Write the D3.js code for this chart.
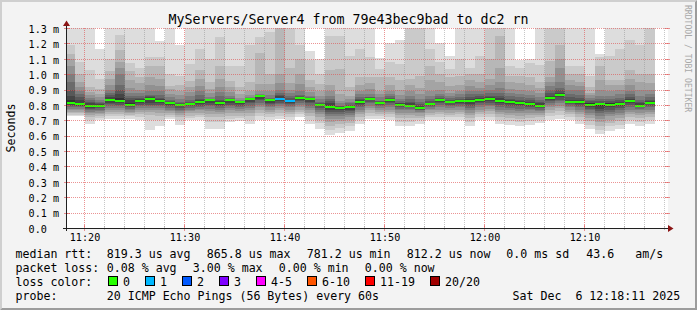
<!DOCTYPE html>
<html><head><meta charset="utf-8">
<script src="https://cdn.jsdelivr.net/npm/d3@7/dist/d3.min.js"></script>
<style>
html,body{margin:0;padding:0;background:#f3f3f3;}
svg{display:block;}
text{font-family:"DejaVu Sans Mono",monospace;fill:#000;white-space:pre;}
</style>
</head><body>
<svg id="c" width="697" height="310"></svg>
<script>
// ---------------- data ----------------
const title = "MyServers/Server4 from 79e43bec9bad to dc2 rn";
const yAxisTitle = "Seconds";
const watermark = "RRDTOOL / TOBI OETIKER";
const yTickValues = [0,0.1,0.2,0.3,0.4,0.5,0.6,0.7,0.8,0.9,1.0,1.1,1.2,1.3];
const yTickLabels = ["0.0","0.1 m","0.2 m","0.3 m","0.4 m","0.5 m","0.6 m","0.7 m","0.8 m","0.9 m","1.0 m","1.1 m","1.2 m","1.3 m"];
const xTickLabels = ["11:20","11:30","11:40","11:50","12:00","12:10"];
const firstSampleStart = "2025-12-06T11:18:00";
// median rtt per 1-minute sample (ms)
const medians = [0.815,0.807,0.796,0.796,0.830,0.826,0.802,0.828,0.839,0.828,
 0.813,0.802,0.807,0.820,0.830,0.815,0.830,0.820,0.839,0.859,
 0.833,0.841,0.826,0.848,0.839,0.802,0.787,0.780,0.789,0.820,
 0.841,0.813,0.833,0.802,0.796,0.783,0.807,0.833,0.820,0.826,
 0.828,0.835,0.839,0.828,0.820,0.813,0.807,0.796,0.848,0.865,
 0.820,0.820,0.802,0.807,0.802,0.807,0.826,0.796,0.813];
// lost pings per sample
const losses = [0,0,0,0,0,0,0,0,0,0, 0,0,0,0,0,0,0,0,0,0, 0,1,1,0,0,0,0,0,0,0,
 0,0,0,0,0,0,0,0,0,0, 0,0,0,0,0,0,0,0,0,0, 0,0,0,0,0,0,0,0,0];
// 20 sorted ping rtts per sample (ms)
const pings = [
[0.725,0.735,0.745,0.755,0.765,0.775,0.785,0.795,0.80,0.81,0.83,0.86,0.90,0.95,1.00,1.05,1.10,1.13,1.19,1.40],
[0.725,0.735,0.745,0.755,0.765,0.775,0.785,0.79,0.795,0.80,0.815,0.835,0.85,0.87,0.89,0.915,0.95,1.00,1.08,1.40],
[0.678,0.70,0.72,0.735,0.745,0.755,0.765,0.775,0.78,0.79,0.80,0.81,0.82,0.83,0.845,0.865,0.885,0.915,1.03,1.40],
[0.70,0.715,0.73,0.74,0.75,0.76,0.77,0.78,0.785,0.79,0.80,0.805,0.81,0.82,0.833,0.85,0.872,0.905,0.97,1.165],
[0.71,0.725,0.74,0.755,0.77,0.78,0.795,0.805,0.815,0.825,0.838,0.85,0.865,0.88,0.90,0.93,0.97,1.02,1.10,1.40],
[0.71,0.725,0.74,0.755,0.77,0.78,0.79,0.80,0.81,0.82,0.845,0.87,0.90,0.93,1.00,1.04,1.08,1.16,1.255,1.40],
[0.71,0.725,0.735,0.745,0.755,0.765,0.775,0.785,0.79,0.795,0.815,0.83,0.845,0.86,0.88,0.91,0.96,1.02,1.07,1.40],
[0.70,0.72,0.74,0.755,0.77,0.78,0.79,0.80,0.81,0.82,0.833,0.84,0.848,0.86,0.875,0.90,0.94,0.98,1.04,1.40],
[0.64,0.70,0.735,0.755,0.77,0.78,0.79,0.80,0.815,0.83,0.845,0.85,0.858,0.867,0.893,0.93,0.98,1.05,1.11,1.40],
[0.665,0.70,0.73,0.75,0.765,0.78,0.79,0.80,0.81,0.82,0.832,0.838,0.845,0.867,0.893,0.926,0.97,1.055,1.11,1.215],
[0.708,0.72,0.735,0.75,0.76,0.77,0.78,0.79,0.80,0.808,0.817,0.82,0.825,0.833,0.85,0.872,0.905,0.926,1.0,1.40],
[0.672,0.70,0.72,0.735,0.75,0.76,0.77,0.78,0.79,0.798,0.805,0.808,0.812,0.817,0.84,0.865,0.893,0.93,0.985,1.187],
[0.70,0.715,0.73,0.745,0.76,0.77,0.78,0.79,0.80,0.804,0.81,0.815,0.82,0.833,0.855,0.883,0.915,0.958,1.063,1.40],
[0.70,0.72,0.735,0.75,0.765,0.775,0.785,0.795,0.805,0.815,0.825,0.83,0.84,0.865,0.893,0.926,0.97,1.024,1.165,1.40],
[0.645,0.69,0.72,0.74,0.76,0.775,0.79,0.80,0.815,0.825,0.832,0.834,0.837,0.841,0.854,0.876,0.904,0.948,1.10,1.40],
[0.643,0.69,0.72,0.74,0.755,0.77,0.78,0.79,0.80,0.81,0.82,0.825,0.833,0.855,0.883,0.915,0.97,1.05,1.24,1.40],
[0.687,0.71,0.73,0.75,0.765,0.78,0.79,0.80,0.815,0.825,0.832,0.835,0.838,0.845,0.86,0.883,0.915,0.958,1.055,1.40],
[0.698,0.715,0.73,0.745,0.76,0.775,0.785,0.795,0.805,0.815,0.822,0.824,0.826,0.828,0.835,0.845,0.872,0.915,1.05,1.40],
[0.676,0.70,0.725,0.745,0.765,0.78,0.795,0.81,0.82,0.83,0.84,0.842,0.844,0.846,0.85,0.865,0.893,0.948,1.187,1.40],
[0.70,0.725,0.75,0.77,0.785,0.80,0.815,0.83,0.84,0.85,0.86,0.862,0.864,0.866,0.872,0.893,0.937,1.137,1.24,1.40],
[0.70,0.72,0.74,0.755,0.77,0.785,0.795,0.805,0.815,0.825,0.835,0.837,0.84,0.845,0.867,0.893,0.937,1.0,1.274,1.40],
[0.71,0.73,0.75,0.765,0.78,0.795,0.805,0.815,0.825,0.835,0.845,0.855,0.865,0.88,0.90,0.94,1.0,1.32,1.40,1.50],
[0.70,0.72,0.74,0.755,0.77,0.785,0.795,0.805,0.815,0.822,0.83,0.835,0.845,0.86,0.875,0.90,0.94,1.04,1.35,1.50],
[0.72,0.74,0.755,0.77,0.785,0.80,0.815,0.825,0.835,0.845,0.851,0.854,0.858,0.865,0.893,0.937,1.0,1.10,1.187,1.40],
[0.676,0.70,0.725,0.745,0.765,0.78,0.795,0.81,0.82,0.83,0.841,0.843,0.846,0.85,0.86,0.883,0.915,0.96,1.09,1.15],
[0.643,0.68,0.70,0.72,0.74,0.755,0.77,0.78,0.79,0.798,0.804,0.807,0.81,0.817,0.839,0.86,0.893,0.937,1.0,1.10],
[0.606,0.64,0.665,0.69,0.71,0.725,0.74,0.755,0.77,0.78,0.795,0.81,0.825,0.84,0.86,0.89,0.93,1.03,1.25,1.40],
[0.62,0.65,0.675,0.695,0.71,0.725,0.74,0.755,0.765,0.775,0.783,0.786,0.79,0.796,0.81,0.828,0.872,1.035,1.25,1.40],
[0.63,0.66,0.685,0.705,0.72,0.735,0.75,0.76,0.77,0.78,0.792,0.795,0.80,0.81,0.817,0.84,0.86,0.915,1.12,1.40],
[0.676,0.70,0.72,0.74,0.755,0.77,0.785,0.795,0.805,0.815,0.825,0.83,0.838,0.85,0.87,0.893,0.93,0.98,1.165,1.40],
[0.71,0.73,0.75,0.765,0.78,0.795,0.81,0.82,0.83,0.838,0.845,0.848,0.851,0.854,0.872,0.904,0.94,0.98,1.11,1.40],
[0.71,0.725,0.74,0.755,0.77,0.78,0.79,0.80,0.806,0.81,0.816,0.82,0.825,0.828,0.85,0.87,0.893,0.98,1.035,1.105],
[0.70,0.72,0.74,0.755,0.77,0.785,0.80,0.81,0.82,0.83,0.836,0.84,0.845,0.855,0.87,0.89,0.93,0.98,1.08,1.204],
[0.665,0.69,0.715,0.735,0.75,0.765,0.775,0.785,0.792,0.798,0.806,0.81,0.815,0.825,0.84,0.865,0.90,0.96,1.067,1.22],
[0.665,0.69,0.715,0.735,0.75,0.765,0.775,0.785,0.79,0.793,0.80,0.81,0.82,0.84,0.86,0.89,0.93,0.97,1.35,1.45],
[0.676,0.70,0.715,0.73,0.745,0.755,0.765,0.77,0.775,0.78,0.787,0.795,0.805,0.82,0.84,0.87,0.91,0.99,1.35,1.45],
[0.70,0.72,0.735,0.75,0.765,0.775,0.785,0.795,0.80,0.804,0.81,0.815,0.825,0.84,0.86,0.89,0.96,1.05,1.165,1.40],
[0.70,0.72,0.74,0.755,0.77,0.785,0.80,0.81,0.82,0.83,0.836,0.84,0.845,0.855,0.87,0.90,0.95,1.0,1.078,1.20],
[0.70,0.72,0.735,0.75,0.765,0.78,0.79,0.80,0.81,0.816,0.824,0.828,0.835,0.845,0.86,0.88,0.92,0.98,1.035,1.115],
[0.70,0.72,0.74,0.755,0.77,0.785,0.795,0.805,0.815,0.822,0.83,0.835,0.84,0.85,0.87,0.89,0.93,0.99,1.10,1.40],
[0.665,0.69,0.715,0.735,0.75,0.765,0.78,0.795,0.808,0.82,0.835,0.84,0.85,0.87,0.89,0.92,0.96,1.0,1.04,1.40],
[0.70,0.72,0.74,0.755,0.77,0.785,0.80,0.81,0.82,0.83,0.84,0.845,0.855,0.87,0.89,0.91,0.95,1.0,1.12,1.40],
[0.70,0.72,0.74,0.76,0.775,0.79,0.80,0.815,0.825,0.835,0.845,0.85,0.86,0.875,0.90,0.93,0.97,1.10,1.35,1.45],
[0.676,0.70,0.72,0.74,0.755,0.77,0.785,0.80,0.81,0.82,0.835,0.845,0.86,0.88,0.91,0.95,1.04,1.25,1.35,1.45],
[0.67,0.695,0.715,0.735,0.75,0.765,0.78,0.795,0.805,0.815,0.825,0.83,0.84,0.855,0.875,0.905,0.95,0.99,1.055,1.40],
[0.665,0.69,0.71,0.73,0.745,0.76,0.775,0.79,0.80,0.808,0.818,0.825,0.835,0.85,0.87,0.90,0.94,0.99,1.04,1.09],
[0.67,0.695,0.715,0.735,0.75,0.765,0.775,0.785,0.795,0.803,0.811,0.82,0.83,0.845,0.865,0.89,0.93,0.98,1.07,1.10],
[0.68,0.70,0.72,0.735,0.75,0.76,0.77,0.78,0.787,0.792,0.80,0.81,0.82,0.835,0.85,0.875,0.91,0.95,1.06,1.40],
[0.70,0.725,0.75,0.77,0.785,0.80,0.815,0.825,0.835,0.843,0.853,0.86,0.875,0.895,0.92,0.95,0.98,1.083,1.35,1.45],
[0.71,0.735,0.76,0.78,0.795,0.81,0.825,0.835,0.85,0.86,0.87,0.88,0.895,0.91,0.95,1.04,1.10,1.19,1.35,1.45],
[0.70,0.72,0.74,0.755,0.77,0.785,0.795,0.805,0.812,0.818,0.824,0.83,0.85,0.87,0.90,0.93,0.96,1.0,1.05,1.40],
[0.676,0.70,0.72,0.74,0.755,0.77,0.785,0.795,0.805,0.815,0.825,0.83,0.845,0.865,0.895,0.925,0.95,1.0,1.05,1.40],
[0.643,0.67,0.695,0.715,0.735,0.75,0.765,0.775,0.785,0.795,0.81,0.815,0.825,0.835,0.845,0.865,0.88,0.915,0.99,1.40],
[0.61,0.64,0.665,0.69,0.71,0.73,0.745,0.76,0.775,0.79,0.81,0.815,0.825,0.84,0.86,0.90,0.96,1.055,1.11,1.133],
[0.63,0.66,0.685,0.705,0.725,0.74,0.755,0.77,0.785,0.795,0.81,0.815,0.825,0.84,0.86,0.89,0.93,0.96,1.12,1.40],
[0.643,0.67,0.695,0.715,0.735,0.75,0.765,0.78,0.79,0.80,0.812,0.82,0.83,0.845,0.87,0.90,0.93,0.96,1.165,1.40],
[0.676,0.70,0.72,0.74,0.755,0.77,0.785,0.80,0.81,0.82,0.832,0.84,0.85,0.87,0.89,0.93,0.97,1.03,1.22,1.40],
[0.665,0.69,0.715,0.735,0.75,0.765,0.775,0.785,0.79,0.794,0.80,0.81,0.82,0.835,0.86,0.90,0.95,1.0,1.187,1.40],
[0.676,0.70,0.72,0.74,0.755,0.77,0.785,0.795,0.805,0.81,0.816,0.825,0.835,0.85,0.87,0.90,0.94,1.0,1.35,1.45]
];
const lossLabels = ["0","1","2","3","4-5","6-10","11-19","20/20"];
const lossColors = ["#26ff00","#00b8ff","#0059ff","#7e00ff","#ff00ff","#ff5500","#ff0000","#a00000"];
const rttStats = ["819.3 us avg","865.8 us max","781.2 us min","812.2 us now","0.0 ms sd","43.6","am/s"];
const lossStats = ["0.08 % avg","3.00 % max","0.00 % min","0.00 % now"];
const probeText = "20 ICMP Echo Pings (56 Bytes) every 60s";
const dateText = "Sat Dec  6 12:18:11 2025";

// ---------------- drawing ----------------
const W = 697, H = 310;
const svg = d3.select("#c");
const parse = d3.timeParse("%Y-%m-%dT%H:%M:%S");
const t0 = parse(firstSampleStart);
const x = d3.scaleTime()
  .domain([new Date(2025,11,6,11,18,12), new Date(2025,11,6,12,18,12)])
  .range([67, 667]);
const y = d3.scaleLinear().domain([0, 1.3]).range([228, 28]);
const MGRID = "rgba(222,80,80,0.62)", GRID = "rgba(143,143,143,0.5)";

svg.append("rect").attr("width", W).attr("height", H).attr("fill", "#f3f3f3");
svg.append("path").attr("d", `M0,0H${W}L${W-2},2H2V${H-2}L0,${H}Z`).attr("fill", "#cfcfcf");
svg.append("path").attr("d", `M${W},${H}H0L2,${H-2}H${W-2}V2L${W},0Z`).attr("fill", "#9c9c9c");

svg.append("defs").append("clipPath").attr("id", "clip")
  .append("rect").attr("x", 67).attr("y", 28).attr("width", 601).attr("height", 200);
svg.append("rect").attr("x", 67).attr("y", 28).attr("width", 601).attr("height", 200).attr("fill", "#fff");

// smoke
const g = svg.append("g").attr("clip-path", "url(#clip)").attr("shape-rendering", "crispEdges");
pings.forEach((p, i) => {
  const a = d3.timeMinute.offset(t0, i), b = d3.timeMinute.offset(t0, i + 1);
  const x0 = x(a), x1 = x(b);
  for (let k = 1; k <= 10; k++) {
    const lo = p[k - 1], hi = p[20 - k];
    const c = Math.floor(190 / 10 * (10 - k)) + 50;
    g.append("rect").attr("x", x0).attr("width", x1 - x0)
      .attr("y", y(hi)).attr("height", Math.max(0, y(lo) - y(hi)))
      .attr("fill", `rgb(${c},${c},${c})`);
  }
});
// medians
medians.forEach((m, i) => {
  const a = d3.timeMinute.offset(t0, i), b = d3.timeMinute.offset(t0, i + 1);
  g.append("rect").attr("x", x(a)).attr("width", x(b) - x(a))
    .attr("y", Math.round(y(m)) - 1).attr("height", 2)
    .attr("fill", lossColors[losses[i]]);
});

// grid
const grid = svg.append("g");
const domain = x.domain();
const minorTimes = d3.timeMinute.every(2).range(domain[0], domain[1]).filter(d => d.getMinutes() % 10 !== 0);
const majorTimes = d3.timeMinute.every(10).range(domain[0], domain[1]);
minorTimes.forEach(t => {
  const xx = Math.round(x(t)) - 0.5;
  grid.append("line").attr("x1", xx).attr("x2", xx).attr("y1", 28).attr("y2", 228)
    .attr("stroke", GRID).attr("stroke-dasharray", "1,1");
  grid.append("line").attr("x1", xx).attr("x2", xx).attr("y1", 226).attr("y2", 230).attr("stroke", GRID);
});
yTickValues.slice(1).forEach(v => {
  const yy = Math.round(y(v)) + 0.5;
  grid.append("line").attr("x1", 67).attr("x2", 668).attr("y1", yy).attr("y2", yy)
    .attr("stroke", MGRID).attr("stroke-dasharray", "1,1");
  grid.append("line").attr("x1", 64).attr("x2", 70).attr("y1", yy).attr("y2", yy).attr("stroke", MGRID);
  grid.append("line").attr("x1", 665).attr("x2", 670).attr("y1", yy).attr("y2", yy).attr("stroke", MGRID);
});
majorTimes.forEach(t => {
  const xx = Math.round(x(t)) - 0.5;
  grid.append("line").attr("x1", xx).attr("x2", xx).attr("y1", 28).attr("y2", 228)
    .attr("stroke", MGRID).attr("stroke-dasharray", "1,1");
  grid.append("line").attr("x1", xx).attr("x2", xx).attr("y1", 225).attr("y2", 231).attr("stroke", MGRID);
});

// axes lines
svg.append("line").attr("x1", 63).attr("x2", 670).attr("y1", 228.5).attr("y2", 228.5).attr("stroke", "#202020");
svg.append("line").attr("x1", 66.5).attr("x2", 66.5).attr("y1", 231).attr("y2", 25).attr("stroke", "#202020");
svg.append("path").attr("d", "M668,225L673.5,228.5L668,232Z").attr("fill", "#8b1515");
svg.append("path").attr("d", "M63,26L66.5,20.5L70,26Z").attr("fill", "#8b1515");

// x labels via d3 axis
const xAxis = d3.axisBottom(x).tickValues(majorTimes).tickFormat((d, i) => xTickLabels[i]).tickSize(0).tickPadding(6);
const gx = svg.append("g").attr("transform", "translate(-0.5,228)").call(xAxis);
gx.select(".domain").remove();
gx.selectAll("text").attr("font-family", "DejaVu Sans Mono").attr("font-size", "10.15px").attr("fill", "#000");

// y labels via d3 axis
const yAxis = d3.axisLeft(y).tickValues(yTickValues).tickFormat((d, i) => yTickLabels[i]).tickSize(0);
const gy = svg.append("g").attr("transform", "translate(67,0.5)").call(yAxis);
gy.select(".domain").remove();
gy.selectAll("text").attr("font-family", "DejaVu Sans Mono").attr("font-size", "10.15px")
  .attr("fill", "#000").attr("text-anchor", "start").attr("x", 28.6 - 67).attr("dy", "0.37em");

// title
svg.append("text").attr("x", 348.5).attr("y", 23.5).attr("text-anchor", "middle")
  .attr("font-size", "13.3px").text(title);
// y axis title
svg.append("text").attr("transform", "translate(15,128) rotate(-90)").attr("text-anchor", "middle")
  .attr("font-size", "11.6px").text(yAxisTitle);
// watermark
svg.append("text").attr("transform", "translate(684.8,5) rotate(90)").attr("font-size", "8.1px")
  .style("fill", "#a8a8a8").text(watermark);

// legend
const LF = "11.6px";
const leg = svg.append("g").attr("font-size", LF);
leg.append("text").attr("x", 15.5).attr("y", 258).text("median rtt:");
const rttX = [106.8, 206.8, 306.8, 406.8, 506.3, 586.2, 635.2];
rttStats.forEach((s, i) => leg.append("text").attr("x", rttX[i]).attr("y", 258).text(s));
leg.append("text").attr("x", 15.5).attr("y", 272).text("packet loss:");
lossStats.forEach((s, i) => leg.append("text").attr("x", 106.8 + 86 * i).attr("y", 272).text(s));
leg.append("text").attr("x", 15.5).attr("y", 286).text("loss color:");
const boxX = [108.5, 145.5, 182.5, 219.5, 256.5, 307.5, 365.5, 430.5];
lossLabels.forEach((l, i) => {
  leg.append("rect").attr("x", boxX[i]).attr("y", 276.5).attr("width", 9).attr("height", 9)
    .attr("fill", lossColors[i]).attr("stroke", "#000").attr("stroke-width", 1);
  leg.append("text").attr("x", boxX[i] + 14.5).attr("y", 286).text(l);
});
leg.append("text").attr("x", 15.5).attr("y", 300).text("probe:");
leg.append("text").attr("x", 106.8).attr("y", 300).text(probeText);
leg.append("text").attr("x", 512.6).attr("y", 300).text(dateText);
</script>
</body></html>
